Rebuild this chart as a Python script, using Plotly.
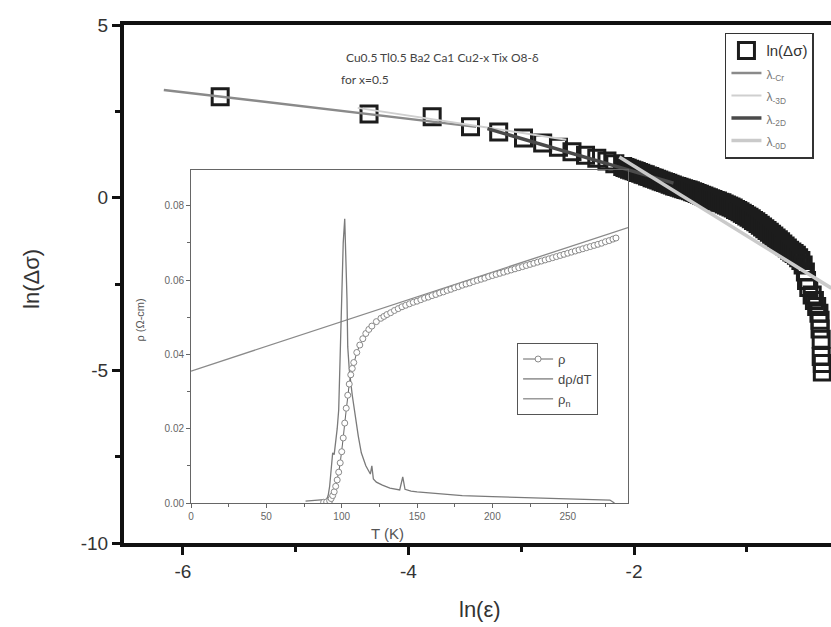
import plotly.graph_objects as go

# ---- main panel: ln(delta sigma) versus ln(epsilon) ----
ln_eps = [-5.67, -4.35, -3.79, -3.45, -3.20, -2.98, -2.81, -2.67, -2.55, -2.43,
          -2.33, -2.24, -2.17,
          -2.10, -2.08, -2.06, -2.04, -2.02, -2.00, -1.98, -1.96, -1.94, -1.92,
          -1.90, -1.88, -1.86, -1.84, -1.82, -1.80, -1.78, -1.76, -1.74, -1.72,
          -1.70, -1.68, -1.66, -1.64, -1.62, -1.60, -1.58, -1.56, -1.54, -1.52,
          -1.50, -1.48, -1.46, -1.44, -1.42, -1.40, -1.38, -1.36, -1.34, -1.32,
          -1.30, -1.28, -1.26, -1.24, -1.22, -1.20, -1.18, -1.16, -1.14, -1.12,
          -1.10, -1.08, -1.06, -1.04, -1.02, -1.00, -0.98, -0.96, -0.94, -0.92,
          -0.90, -0.88, -0.86, -0.84, -0.82, -0.80, -0.78, -0.76, -0.74, -0.72,
          -0.70, -0.68, -0.66, -0.64, -0.62, -0.60, -0.58, -0.56, -0.54, -0.52,
          -0.50, -0.48, -0.47, -0.45, -0.42, -0.40, -0.38, -0.36, -0.35, -0.35,
          -0.34, -0.34, -0.33, -0.33]
ln_dsig = [2.92, 2.42, 2.34, 2.05, 1.90, 1.73, 1.58, 1.46, 1.33, 1.23,
           1.14, 1.06, 0.98,
           0.90, 0.87, 0.85, 0.82, 0.80, 0.78, 0.76, 0.73, 0.71, 0.68,
           0.66, 0.63, 0.61, 0.58, 0.56, 0.53, 0.51, 0.48, 0.46, 0.44,
           0.42, 0.39, 0.37, 0.34, 0.32, 0.30, 0.28, 0.26, 0.24, 0.22,
           0.20, 0.17, 0.15, 0.12, 0.10, 0.07, 0.05, 0.02, 0.00, -0.03,
           -0.05, -0.08, -0.10, -0.13, -0.15, -0.18, -0.21, -0.24, -0.27, -0.30,
           -0.34, -0.37, -0.41, -0.45, -0.49, -0.53, -0.57, -0.61, -0.66, -0.70,
           -0.75, -0.80, -0.85, -0.90, -0.95, -1.00, -1.06, -1.11, -1.17, -1.22,
           -1.28, -1.34, -1.40, -1.46, -1.52, -1.57, -1.62, -1.67, -1.74, -1.82,
           -1.95, -2.15, -2.40, -2.60, -2.82, -2.98, -3.15, -3.35, -3.55, -3.80,
           -4.10, -4.60, -4.80, -5.05]

# fitted straight segments for each fluctuation regime
cr_x, cr_y = [-6.17, -3.40], [3.12, 2.05]
d3_x, d3_y = [-4.45, -2.60], [2.60, 1.68]
d2_x, d2_y = [-3.30, -1.65], [2.00, 0.42]
d0_x, d0_y = [-2.13, -0.25], [1.18, -2.62]

x_ticks, x_labels = [-6, -4, -2], ["-6", "-4", "-2"]
y_ticks, y_labels = [-10, -5, 0, 5], ["-10", "-5", "0", "5"]

# ---- inset: resistivity versus temperature ----
rho_T = [88, 90, 92, 93, 94, 95, 96, 97, 98, 99, 100, 101, 102, 103, 104, 105,
         106, 107, 108, 110, 112, 114, 116, 118, 120, 123, 126, 128, 130, 132.5,
         135, 137.5, 140, 142.5, 145, 147.5,
         150, 152.5, 155, 157.5, 160, 162.5, 165, 167.5, 170, 172.5, 175, 177.5,
         180, 182.5, 185, 187.5, 190, 192.5, 195, 197.5, 200, 202.5, 205, 207.5,
         210, 212.5, 215, 217.5, 220, 222.5, 225, 227.5, 230, 232.5, 235, 237.5,
         240, 242.5, 245, 247.5, 250, 252.5, 255, 257.5, 260, 262.5, 265, 267.5,
         270, 272.5, 275, 277.5, 280, 282]
rho = [0.0002, 0.0003, 0.0006, 0.0012, 0.0020, 0.0030, 0.0045, 0.0062, 0.0083,
       0.0108, 0.0138, 0.0175, 0.0215, 0.0255, 0.0290, 0.0320, 0.0345, 0.0362,
       0.0378, 0.0405, 0.0425, 0.0442, 0.0456, 0.0467, 0.0476, 0.0488, 0.0497,
       0.0502, 0.0507, 0.0512, 0.0518, 0.0523, 0.0528, 0.0532, 0.0536, 0.0540,
       0.0543, 0.0547, 0.0551, 0.0554, 0.0558, 0.0561, 0.0565, 0.0568, 0.0572,
       0.0575, 0.0579, 0.0582, 0.0586, 0.0589, 0.0592, 0.0596, 0.0599, 0.0602,
       0.0605, 0.0609, 0.0612, 0.0615, 0.0618, 0.0621, 0.0624, 0.0627, 0.0630,
       0.0633, 0.0636, 0.0639, 0.0642, 0.0645, 0.0648, 0.0651, 0.0654, 0.0657,
       0.0660, 0.0663, 0.0666, 0.0669, 0.0672, 0.0675, 0.0678, 0.0681, 0.0684,
       0.0687, 0.0690, 0.0693, 0.0696, 0.0699, 0.0703, 0.0706, 0.0710, 0.0713]

drho_T = [76, 80, 85, 88, 90, 91, 92, 93, 94, 95, 96, 97, 98, 99, 100, 101, 102,
          103, 103.5, 104, 105, 107, 109, 111, 113, 116, 119, 120, 121, 123, 127,
          132, 138.5, 140.5, 142, 146, 150, 160, 180, 200, 220, 240, 260, 275,
          278, 281]
drho = [0.0005, 0.0006, 0.0007, 0.0008, 0.0010, 0.0020, 0.0045, 0.0090, 0.0135,
        0.0130, 0.0160, 0.0200, 0.0250, 0.0400, 0.0550, 0.0700, 0.0765, 0.0650,
        0.0550, 0.0420, 0.0360, 0.0290, 0.0230, 0.0180, 0.0135, 0.0100, 0.0078,
        0.0100, 0.0065, 0.0056, 0.0048, 0.0040, 0.0035, 0.0070, 0.0037, 0.0032,
        0.0030, 0.0026, 0.0020, 0.0017, 0.0015, 0.0013, 0.0011, 0.0010, 0.0008,
        0.0000]

rhon_T = [0, 290]
rhon = [0.0355, 0.0741]

fig = go.Figure()

fig.add_trace(go.Scatter(
    x=ln_eps, y=ln_dsig, mode="markers", name="ln(Δσ)", legendrank=1,
    marker=dict(symbol="square-open", size=16, color="#1c1c1c",
                line=dict(width=3, color="#1c1c1c")),
))
fig.add_trace(go.Scatter(x=cr_x, y=cr_y, mode="lines", legendrank=2,
                         name='<span style="font-size:12px;color:#777">λ<sub>-Cr</sub></span>',
                         line=dict(color="#8a8a8a", width=2.5)))
fig.add_trace(go.Scatter(x=d3_x, y=d3_y, mode="lines", legendrank=3,
                         name='<span style="font-size:12px;color:#777">λ<sub>-3D</sub></span>',
                         line=dict(color="#cfcfcf", width=2)))
fig.add_trace(go.Scatter(x=d2_x, y=d2_y, mode="lines", legendrank=4,
                         name='<span style="font-size:12px;color:#777">λ<sub>-2D</sub></span>',
                         line=dict(color="#4a4a4a", width=3.5)))
fig.add_trace(go.Scatter(x=d0_x, y=d0_y, mode="lines", legendrank=5,
                         name='<span style="font-size:12px;color:#777">λ<sub>-0D</sub></span>',
                         line=dict(color="#cacaca", width=3.5)))

# inset traces
fig.add_trace(go.Scatter(x=rhon_T, y=rhon, mode="lines", name="ρ<sub>n</sub>",
                         legend="legend2", legendrank=3, xaxis="x2", yaxis="y2",
                         line=dict(color="#8a8a8a", width=1.3)))
fig.add_trace(go.Scatter(x=drho_T, y=drho, mode="lines", name="dρ/dT",
                         legend="legend2", legendrank=2, xaxis="x2", yaxis="y2",
                         line=dict(color="#7a7a7a", width=1.3)))
fig.add_trace(go.Scatter(x=rho_T, y=rho, mode="lines+markers", name="ρ",
                         legend="legend2", legendrank=1, xaxis="x2", yaxis="y2",
                         line=dict(color="#666", width=1),
                         marker=dict(symbol="circle", size=6, color="white",
                                     line=dict(color="#8a8a8a", width=1))))

axis_font = dict(family="Liberation Sans, Arial, sans-serif", size=19, color="#333")
inset_font = dict(family="Liberation Sans, Arial, sans-serif", size=10, color="#666")

fig.update_layout(
    width=831, height=627,
    margin=dict(l=124, r=0, t=25, b=84),
    paper_bgcolor="white", plot_bgcolor="rgba(0,0,0,0)",
    showlegend=True,
    xaxis=dict(range=[-6.523, -0.253], domain=[0, 1], showgrid=False, zeroline=False,
               showline=True, linecolor="#111", linewidth=4, mirror=True,
               ticks="outside", ticklen=8, tickwidth=3, tickcolor="#111",
               tickmode="array", tickvals=x_ticks, ticktext=x_labels,
               tickfont=axis_font,
               minor=dict(tick0=-6, dtick=1, ticks="outside", ticklen=5, tickwidth=3,
                          tickcolor="#111", showgrid=False)),
    yaxis=dict(range=[-10, 5], domain=[0, 1], showgrid=False, zeroline=False,
               showline=True, linecolor="#111", linewidth=4, mirror=False,
               ticks="outside", ticklen=8, tickwidth=3, tickcolor="#111",
               tickmode="array", tickvals=y_ticks, ticktext=y_labels,
               tickfont=axis_font,
               minor=dict(tick0=-10, dtick=2.5, ticks="outside", ticklen=5, tickwidth=3,
                          tickcolor="#111", showgrid=False)),
    xaxis2=dict(range=[0, 290], domain=[0.0948, 0.7129], anchor="y2",
                showgrid=False, zeroline=False, showline=True, linecolor="#666",
                linewidth=1, mirror=True, ticks="outside", ticklen=4, tickwidth=1,
                tickcolor="#666", tick0=0, dtick=50, tickfont=inset_font,
                minor=dict(dtick=25, ticks="outside", ticklen=3, tickwidth=1,
                           tickcolor="#666", showgrid=False)),
    yaxis2=dict(range=[0, 0.0896], domain=[0.0772, 0.7201], anchor="x2",
                showgrid=False, zeroline=False, showline=True, linecolor="#666",
                linewidth=1, mirror=True, ticks="outside", ticklen=4, tickwidth=1,
                tickcolor="#666", tick0=0, dtick=0.02, tickformat=".2f",
                tickfont=inset_font,
                minor=dict(dtick=0.01, ticks="outside", ticklen=3, tickwidth=1,
                           tickcolor="#666", showgrid=False)),
    legend=dict(x=0.850, y=0.985, xanchor="left", yanchor="top",
                bgcolor="white", bordercolor="#333", borderwidth=1.5,
                font=dict(family="Liberation Sans, Arial, sans-serif", size=15, color="#333"),
                tracegroupgap=0, itemwidth=30),
    legend2=dict(x=0.556, y=0.386, xanchor="left", yanchor="top",
                 bgcolor="white", bordercolor="#555", borderwidth=1,
                 font=dict(family="Liberation Sans, Arial, sans-serif", size=13, color="#444"),
                 tracegroupgap=0, itemwidth=30),
    annotations=[
        dict(text="ln(Δσ)", xref="paper", yref="paper", x=-0.13, y=0.51,
             xanchor="center", yanchor="middle", textangle=-90, showarrow=False,
             font=dict(family="Liberation Sans, Arial, sans-serif", size=22, color="#333")),
        dict(text="ln(ε)", xref="paper", yref="paper", x=0.503, y=-0.129,
             xanchor="center", yanchor="middle", showarrow=False,
             font=dict(family="Liberation Sans, Arial, sans-serif", size=22, color="#333")),
        dict(text="Cu0.5 Tl0.5 Ba2 Ca1 Cu2-x Tix O8-δ", xref="paper", yref="paper",
             x=0.451, y=0.938, xanchor="center", yanchor="middle", showarrow=False,
             font=dict(family="Lato, sans-serif", size=12, color="#444")),
        dict(text="for x=0.5", xref="paper", yref="paper", x=0.304, y=0.894,
             xanchor="left", yanchor="middle", showarrow=False,
             font=dict(family="Lato, sans-serif", size=12, color="#444")),
        dict(text="ρ (Ω-cm)", xref="paper", yref="paper", x=0.023, y=0.43,
             xanchor="center", yanchor="middle", textangle=-90, showarrow=False,
             font=dict(family="Liberation Sans, Arial, sans-serif", size=11, color="#555")),
        dict(text="T (K)", xref="paper", yref="paper", x=0.373, y=0.019,
             xanchor="center", yanchor="middle", showarrow=False,
             font=dict(family="Liberation Sans, Arial, sans-serif", size=15, color="#555")),
    ],
)

fig.write_html("out.html")
